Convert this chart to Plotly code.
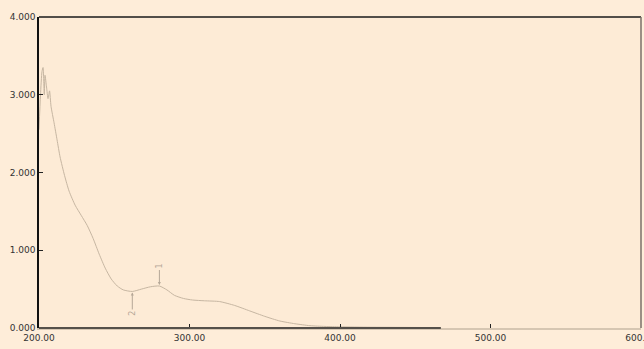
import plotly.graph_objects as go

wavelength = [200, 201, 202, 202.7, 203.5, 204, 205, 206, 207, 208, 210, 212, 214, 217,
              220, 224, 228, 232, 236, 240, 244, 248, 252, 256, 262, 268, 274, 280,
              285, 290, 296, 302, 310, 320, 330, 340, 350, 360, 370, 380, 390, 400,
              420, 440, 467]
absorbance = [2.55, 3.0, 3.3, 3.35, 3.0, 3.25, 3.1, 2.95, 3.05, 2.85, 2.64, 2.42, 2.2, 1.96,
              1.76, 1.58, 1.45, 1.32, 1.15, 0.95, 0.77, 0.63, 0.54, 0.49, 0.47, 0.50, 0.53, 0.54,
              0.49, 0.42, 0.38, 0.36, 0.35, 0.34, 0.29, 0.22, 0.15, 0.09, 0.055, 0.03, 0.02, 0.015,
              0.01, 0.008, 0.005]
peak_labels = ["1", "2"]
peak_wl = [280, 262]
peak_abs = [0.54, 0.47]

xticks = [200, 300, 400, 500, 600]
xtick_text = ["200.00", "300.00", "400.00", "500.00", "600.00"]
yticks = [0, 1, 2, 3, 4]
ytick_text = ["0.000", "1.000", "2.000", "3.000", "4.000"]

fig = go.Figure()
fig.add_trace(go.Scatter(x=wavelength, y=absorbance, mode="lines",
                         line=dict(color="#C6B6A2", width=1, shape="spline", smoothing=0.6),
                         hoverinfo="skip"))

tickfont = dict(family="DejaVu Sans", size=9, color="#333333")
fig.update_xaxes(range=[200, 600], tickvals=xticks, ticktext=xtick_text,
                 ticks="inside", ticklen=4, tickcolor="#222222", showgrid=False,
                 zeroline=False, showline=True, linecolor="#D6C6B2", linewidth=1.5,
                 tickfont=tickfont, automargin=False, ticklabeloverflow="allow")
fig.update_yaxes(range=[0, 4], tickvals=yticks, ticktext=ytick_text,
                 ticks="inside", ticklen=4, tickcolor="#222222", showgrid=False,
                 zeroline=False, showline=True, linecolor="#111111", linewidth=1.5,
                 tickfont=tickfont, automargin=False, ticklabeloverflow="allow")

# dark axis segment over data range
fig.add_shape(type="line", xref="x", yref="paper", x0=min(wavelength), x1=max(wavelength),
              y0=0, y1=0, line=dict(color="#55504A", width=2))
# top and right frame
fig.add_shape(type="line", xref="paper", yref="paper", x0=0, x1=1, y0=1, y1=1,
              line=dict(color="#1A1A1A", width=1.5))
fig.add_shape(type="line", xref="paper", yref="paper", x0=1, x1=1, y0=0, y1=1,
              line=dict(color="#7A7068", width=1.5))

for lab, wx, wy, ay in zip(peak_labels, peak_wl, peak_abs, [-20, 22]):
    fig.add_annotation(x=wx, y=wy, text=lab, textangle=-90, showarrow=True,
                       arrowhead=2, arrowsize=0.6, arrowwidth=1, arrowcolor="#B5A797",
                       ax=0, ay=ay, standoff=1,
                       font=dict(family="DejaVu Sans", size=8, color="#B5A797"))

fig.update_layout(width=644, height=349, margin=dict(l=39, r=3, t=17, b=21),
                  paper_bgcolor="#FEEDD9", plot_bgcolor="#FDEBD6", showlegend=False)
fig.write_html("out.html", config={"displayModeBar": False},
               post_script="document.body.style.margin='0';document.body.style.background='#FEEDD9';")
